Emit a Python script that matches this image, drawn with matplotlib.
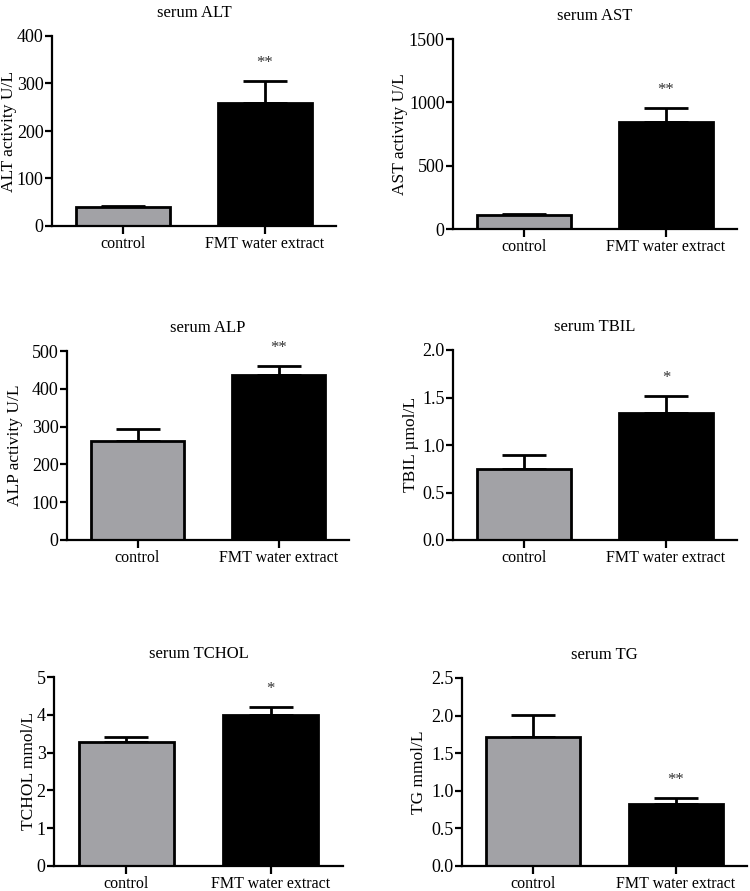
import numpy as np
import matplotlib.pyplot as plt

plt.rcParams['font.family'] = ['Liberation Serif', 'DejaVu Serif']

groups = ['control', 'FMT water extract']

alt_mean = [40, 258]
alt_err = [3, 47]
ast_mean = [112, 845]
ast_err = [8, 110]
alp_mean = [262, 436]
alp_err = [32, 24]
tbil_mean = [0.75, 1.34]
tbil_err = [0.14, 0.18]
tchol_mean = [3.27, 3.99]
tchol_err = [0.13, 0.22]
tg_mean = [1.71, 0.83]
tg_err = [0.30, 0.08]

stars = {'ALT': '**', 'AST': '**', 'ALP': '**', 'TBIL': '*', 'TCHOL': '*', 'TG': '**'}

# name, y label, means, errors, y max, ticks, format, axes box (px), y label right edge (px)
panels = [
    ('ALT', 'ALT activity U/L', alt_mean, alt_err, 400, [0, 100, 200, 300, 400], '%d', [52, 36, 336, 226], 17),
    ('AST', 'AST activity U/L', ast_mean, ast_err, 1500, [0, 500, 1000, 1500], '%d', [453, 39, 737, 229], 408),
    ('ALP', 'ALP activity U/L', alp_mean, alp_err, 500, [0, 100, 200, 300, 400, 500], '%d', [67, 351, 349, 540], 23),
    ('TBIL', 'TBIL \u00b5mol/L', tbil_mean, tbil_err, 2.0, [0, 0.5, 1.0, 1.5, 2.0], '%.1f', [453, 350, 737, 540], 419),
    ('TCHOL', 'TCHOL mmol/L', tchol_mean, tchol_err, 5, [0, 1, 2, 3, 4, 5], '%d', [54, 677, 343, 866], 37),
    ('TG', 'TG mmol/L', tg_mean, tg_err, 2.5, [0, 0.5, 1.0, 1.5, 2.0, 2.5], '%.1f', [462, 678, 747, 866], 427),
]

W, H = 750, 891
fig = plt.figure(figsize=(7.5, 8.91), dpi=100)

x = np.arange(len(groups))
for name, ylab, mean, err, ytop, yt, fmt, box, ylx in panels:
    l, t, r, b = box
    ax = fig.add_axes([l / W, 1 - b / H, (r - l) / W, (b - t) / H])
    ax.bar(x, mean, width=0.66, color=['#a2a2a6', 'black'], edgecolor='black',
           linewidth=2, zorder=2)
    ax.errorbar(x, mean, yerr=[[0, 0], err], fmt='none', ecolor='black',
                elinewidth=2, capsize=16, capthick=2, zorder=1)
    ax.annotate(stars[name], (1, mean[1] + err[1]), xytext=(0, 7), textcoords='offset points',
                ha='center', va='bottom', fontsize=12, color='#333333')
    ax.set_xlim(-0.5, 1.5)
    ax.set_ylim(0, ytop)
    ax.set_yticks(yt)
    ax.set_yticklabels([fmt % v for v in yt])
    ax.set_xticks(x)
    ax.set_xticklabels(groups)
    ax.set_ylabel(ylab, fontsize=12.5)
    ax.yaxis.set_label_coords((ylx - l) / (r - l), 0.5)
    ax.set_title('serum ' + name, fontsize=12, pad=14)
    for s in ['top', 'right']:
        ax.spines[s].set_visible(False)
    for s in ['left', 'bottom']:
        ax.spines[s].set_linewidth(1.6)
    ax.tick_params(axis='y', labelsize=13, width=1.6, length=5, pad=1)
    ax.tick_params(axis='x', labelsize=11.5, width=1.6, length=6, pad=1)

fig.savefig('out.png', dpi=100)
